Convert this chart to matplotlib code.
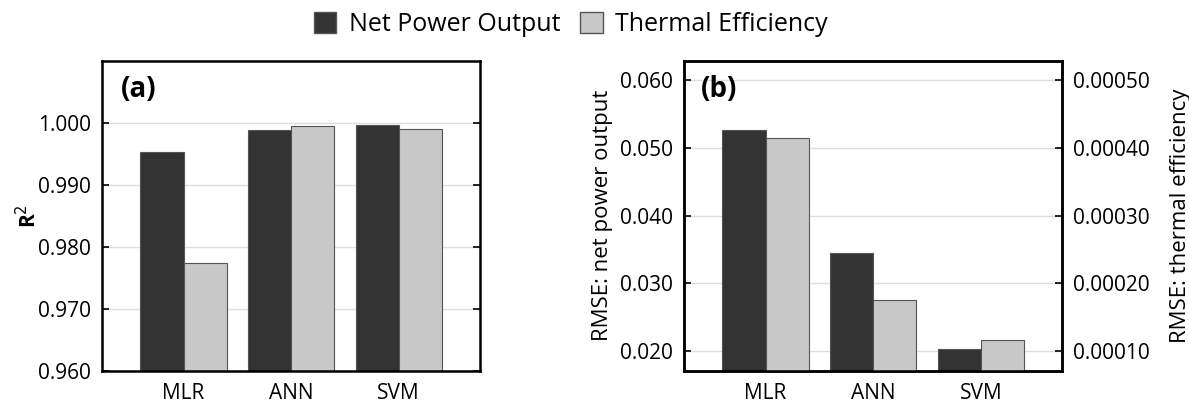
import matplotlib
matplotlib.use("Agg")
import matplotlib.pyplot as plt
import numpy as np
from matplotlib.patches import Patch

plt.rcParams['font.family'] = ['Open Sans', 'DejaVu Sans']

models = ["MLR", "ANN", "SVM"]
r2_power = [0.9952, 0.99876, 0.9996]
r2_eff = [0.9773, 0.9994, 0.9990]
rmse_power = [0.0526, 0.0345, 0.0203]
rmse_eff = [0.000415, 0.000176, 0.000117]

dark = "#333333"
light = "#c8c8c8"
edge = "#555555"

fig = plt.figure(figsize=(11.89, 4.08), dpi=100)
axa = fig.add_axes([0.0860, 0.0914, 0.3177, 0.760])
axb = fig.add_axes([0.5755, 0.0914, 0.3179, 0.760])

x = np.arange(len(models))
w = 0.4

def style(ax):
    for s in ax.spines.values():
        s.set_linewidth(1.8)
        s.set_color("black")
    ax.set_xlim(-0.755, 2.755)
    ax.set_xticks(x)
    ax.set_xticklabels(models, fontsize=15)
    ax.tick_params(axis='x', length=0, pad=9)
    ax.grid(axis='y', color="#dddddd", linewidth=1)
    ax.set_axisbelow(True)

# panel a
axa.bar(x - w/2, r2_power, w, color=dark, edgecolor=edge, linewidth=0.8)
axa.bar(x + w/2, r2_eff, w, color=light, edgecolor=edge, linewidth=0.8)
axa.set_ylim(0.960, 1.010)
axa.set_yticks([0.960, 0.970, 0.980, 0.990, 1.000])
axa.set_yticklabels(["0.960", "0.970", "0.980", "0.990", "1.000"])
axa.tick_params(axis='y', direction='in', right=True, length=5, width=1.2, labelsize=15, pad=8)
style(axa)
axa.set_ylabel("R$^2$", fontsize=15, fontweight='bold', labelpad=-2)
axa.text(0.05, 0.955, "(a)", transform=axa.transAxes, fontsize=20, fontweight='bold', va='top')

# panel b
axb.bar(x - w/2, rmse_power, w, color=dark, edgecolor=edge, linewidth=0.8)
axb.set_ylim(0.0171, 0.0629)
axb.set_yticks([0.020, 0.030, 0.040, 0.050, 0.060])
axb.set_yticklabels(["0.020", "0.030", "0.040", "0.050", "0.060"])
axb.tick_params(axis='y', direction='in', length=5, width=1.2, labelsize=15, pad=8)
style(axb)
axb.set_ylabel("RMSE: net power output", fontsize=16, labelpad=5)
axb2 = axb.twinx()
axb2.bar(x + w/2, rmse_eff, w, color=light, edgecolor=edge, linewidth=0.8)
axb2.set_ylim(0.000071, 0.000529)
axb2.set_yticks([0.0001, 0.0002, 0.0003, 0.0004, 0.0005])
axb2.set_yticklabels(["0.00010", "0.00020", "0.00030", "0.00040", "0.00050"])
axb2.tick_params(axis='y', direction='in', length=5, width=1.2, labelsize=15, pad=8)
for s in axb2.spines.values():
    s.set_linewidth(1.8)
axb2.set_ylabel("RMSE: thermal efficiency", fontsize=16, labelpad=14)
axb.text(0.045, 0.955, "(b)", transform=axb.transAxes, fontsize=20, fontweight='bold', va='top')

handles = [Patch(facecolor=dark, edgecolor=edge, label="Net Power Output"),
           Patch(facecolor=light, edgecolor=edge, label="Thermal Efficiency")]
fig.legend(handles=handles, loc='upper center', bbox_to_anchor=(0.48, 1.025), ncol=2,
           frameon=False, fontsize=18, handlelength=0.9, handleheight=0.9,
           handletextpad=0.5, columnspacing=0.8)

fig.savefig("out.png", dpi=100)
